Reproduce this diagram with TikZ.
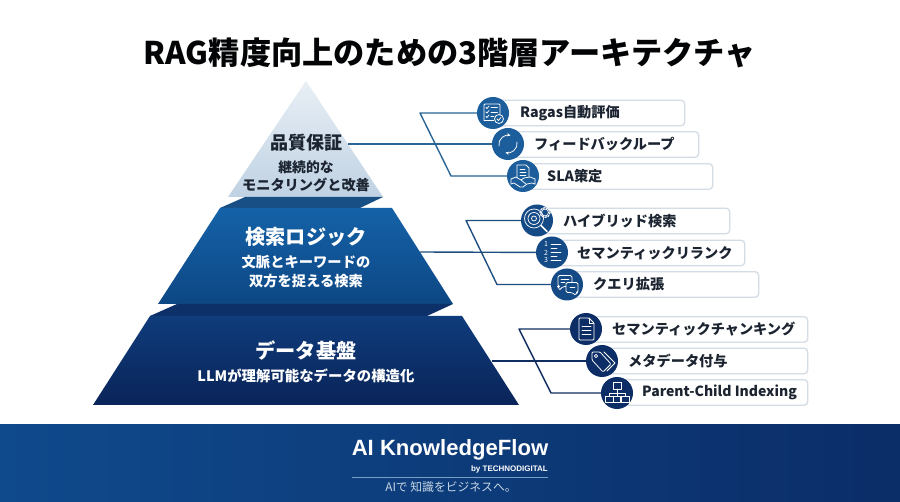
\documentclass[tikz,border=0pt]{standalone}
\usepackage{fontspec}
\setmainfont{Noto Sans CJK JP}
\newfontfamily\latinbold{Liberation Sans}
\usetikzlibrary{arrows.meta}
\definecolor{inkc}{HTML}{1B2430}
\definecolor{c1}{HTML}{1C5E9C}
\definecolor{c2}{HTML}{144A86}
\definecolor{c3}{HTML}{0C2D66}
\definecolor{l1}{HTML}{2A6596}
\definecolor{l2}{HTML}{1F4F80}
\definecolor{l3}{HTML}{102F60}
\definecolor{pb}{HTML}{D4DCE5}
\definecolor{fa}{HTML}{0F4A8C}
\definecolor{fb}{HTML}{0F4E94}
\definecolor{fc}{HTML}{0B2D68}
\definecolor{ta}{HTML}{1562A8}
\definecolor{tb}{HTML}{0D4784}
\definecolor{tc}{HTML}{0F3C7B}
\definecolor{td}{HTML}{0A2459}
\tikzset{
  fs/.style={font=\fontsize{#1}{#1}\selectfont\bfseries},
  fn/.style={font=\fontsize{#1}{#1}\selectfont},
  lab/.style={inner sep=0pt,anchor=center,text=inkc},
  wlab/.style={inner sep=0pt,anchor=center,text=white},
  pilltext/.style={inner sep=0pt,anchor=west,text=inkc,fs=14.2},
  pill/.style={draw=pb,line width=1.3pt,fill=white,rounded corners=3.5pt,minimum height=25.5pt,inner sep=0pt,anchor=west},
  icon/.style={circle,minimum size=32pt,inner sep=0pt,fill=#1},
  ln/.style={line width=1.4pt,draw=#1,line join=round},
  gl/.style={draw=white,line width=0.75pt,line join=round,line cap=round},
  pics/icchk/.style={code={
    \draw[gl,rounded corners=1pt] (-9,7) -- (-9,-9) -- (7,-9) -- (7,2);
    \draw[gl] (-9,7) -- (1,7);
    \draw[gl] (-7,-5.5) -- (-6,-4.5) -- (-4,-7); \draw[gl] (-2,-5.5) -- (4.5,-5.5);
    \draw[gl] (-7,-1) -- (-6,0) -- (-4,-2.5); \draw[gl] (-2,-1) -- (4.5,-1);
    \draw[gl] (-7,3.5) -- (-6,4.5) -- (-4,2); \draw[gl] (-2,3.5) -- (1,3.5);
    \draw[gl,fill=#1] (6,6) circle (4.5);
    \draw[gl] (4,6) -- (5.5,7.5) -- (8,4.5);
  }},
  pics/icsync/.style={code={
    \draw[gl,-{Stealth[length=3.5pt,width=3.5pt]}] (-9,2) arc[start angle=170,end angle=285,radius=9.2];
    \draw[gl,-{Stealth[length=3.5pt,width=3.5pt]}] (9,-2) arc[start angle=-10,end angle=105,radius=9.2];
  }},
  pics/ichand/.style={code={
    \draw[gl] (-6,2) -- (-6,-11) -- (3,-11) -- (6,-8) -- (6,1);
    \draw[gl] (-3,-7) -- (2,-7) (-3,-4) -- (3,-4) (-3,-1) -- (3,-1);
    \draw[gl] (-12,3) -- (-7,1) -- (-2,4) -- (1,2) -- (7,1) -- (12,3);
    \draw[gl] (-12,8) -- (-9,7) -- (-3,11) -- (0,11) -- (4,8) -- (9,7) -- (12,8);
    \draw[gl] (-12,3) -- (-12,8) (12,3) -- (12,8) (-2,4) -- (3,8);
  }},
  pics/ictarget/.style={code={
    \draw[gl] (-3,-2) circle (9.5);
    \draw[gl] (-3,-2) circle (6);
    \draw[gl] (-3,-2) circle (2.5);
    \draw[gl,line width=1.6pt] (4,5) -- (10,11);
    \draw[gl] (8,-8) circle (3.5);
    \draw[gl,dash pattern=on 1.5pt off 1.5pt,line width=1.2pt] (8,-8) circle (5);
  }},
  pics/iclist/.style={code={
    \node[inner sep=0pt,text=white,fn=7] at (-6,-8) {1};
    \node[inner sep=0pt,text=white,fn=7] at (-6,0) {2};
    \node[inner sep=0pt,text=white,fn=7] at (-6,8) {3};
    \draw[gl] (-1,-8) -- (9,-8) (-1,-4) -- (5,-4) (-1,0) -- (9,0) (-1,4) -- (5,4) (-1,8) -- (9,8);
  }},
  pics/icchat/.style={code={
    \draw[gl,rounded corners=1.5pt] (-9,-9) -- (5,-9) -- (5,2) -- (-4,2) -- (-8,6) -- (-8,2) -- (-9,2) -- cycle;
    \draw[gl,rounded corners=1.5pt,fill=#1] (-1,-2) -- (11,-2) -- (11,8) -- (9,8) -- (9,11) -- (5,8) -- (-1,8) -- cycle;
    \draw[gl] (-6,-5.5) -- (2,-5.5) (-6,-2) -- (-2,-2);
    \draw[gl] (3,3) -- (8,3);
  }},
  pics/icdoc/.style={code={
    \draw[gl,rounded corners=1pt] (-7,-11) -- (3,-11) -- (8,-6) -- (8,11) -- (-7,11) -- cycle;
    \draw[gl] (3,-11) -- (3,-6) -- (8,-6);
    \draw[gl] (-4,-3) -- (5,-3) (-4,1) -- (5,1) (-4,5) -- (5,5);
  }},
  pics/ictag/.style={code={
    \draw[gl,rounded corners=1pt] (-10,-9) -- (-2,-9) -- (9,3) -- (1,11) -- (-10,-1) -- cycle;
    \draw[gl] (-2,-9) ++(4,0) -- (13,2) -- (5,10);
    \draw[gl] (-6,-5) circle (1.6);
  }},
  pics/ictree/.style={code={
    \draw[gl] (-4,-11) rectangle (4,-4);
    \draw[gl] (0,-4) -- (0,0) (-8,3) -- (-8,0) -- (8,0) -- (8,3) (0,0) -- (0,3);
    \draw[gl] (-12,3) rectangle (-4,9);
    \draw[gl] (-3.5,3) rectangle (3.5,9);
    \draw[gl] (4,3) rectangle (12,9);
  }},
}
\begin{document}
\begin{tikzpicture}[x=1pt,y=-1pt]
\useasboundingbox (0,0) rectangle (900,502);
\fill[white] (0,0) rectangle (900,502);
% footer
\shade[left color=fa,middle color=fb,right color=fc] (0,425) rectangle (900,502);
\node[wlab] (ft1) at (450,450) {\latinbold\fontsize{22.1}{22.1}\selectfont\bfseries AI KnowledgeFlow};
\node[inner sep=0pt,anchor=east,text=white] (ft2) at (548,469) {\latinbold\fontsize{8}{8}\selectfont\bfseries by TECHNODIGITAL};
\coordinate (fl) at (352,477);
\coordinate (fr) at (548,477);
\draw[draw=c1!60!white,line width=0.8pt] (fl) -- (fr);
\node[inner sep=0pt,text=c1!25!white,fn=11.8] (ft3) at (451,487.5) {AIで 知識をビジネスへ。};
% title
\node[lab,text=black!90!inkc,fs=31.2] (title) at (450,53) {RAG精度向上のための3階層アーキテクチャ};
% pyramid
\coordinate (e1) at (348,144);
\coordinate (e2) at (420,252);
\coordinate (e3) at (492,361);
\shade[top color=white!90!c1,bottom color=c1!28!white] (306,81) -- (383,197) -- (228,197) -- cycle;
\fill[c1!85!black] (245,197) -- (383,197) -- (360,208) -- (220,208) -- cycle;
\shade[top color=ta,bottom color=tb] (220,208) -- (392,208) -- (453,304) -- (158,304) -- cycle;
\fill[c3!90!c2] (177,304) -- (453,304) -- (427,316) -- (150,316) -- cycle;
\shade[top color=tc,bottom color=td] (150,316) -- (462,316) -- (519,405) -- (93,405) -- cycle;
% tier texts
\node[lab,fs=18] (a1) at (306,143) {品質保証};
\node[lab,fs=13.8] (a2) at (306,167) {継続的な};
\node[lab,fs=14.2] (a3) at (306,185) {モニタリングと改善};
\node[wlab,fs=20.2] (b1) at (306,237) {検索ロジック};
\node[wlab,fs=14.3] (b2) at (306,262) {文脈とキーワードの};
\node[wlab,fs=14.3] (b3) at (306,281) {双方を捉える検索};
\node[wlab,fs=20.2] (d1) at (306,351) {データ基盤};
\node[wlab,fs=14.4] (d2) at (306,376) {LLMが理解可能なデータの構造化};
% pills
\node[pill,minimum width=191pt] (p11) at (493,113) {};
\node[pill,minimum width=190pt] (p12) at (508,144.5) {};
\node[pill,minimum width=189pt] (p13) at (523,176.5) {};
\node[pill,minimum width=192pt] (p21) at (537,221) {};
\node[pill,minimum width=192pt] (p22) at (552,253) {};
\node[pill,minimum width=191pt] (p23) at (567,284.5) {};
\node[pill,minimum width=221pt] (p31) at (586,329.5) {};
\node[pill,minimum width=205pt] (p32) at (602,361) {};
\node[pill,minimum width=190pt] (p33) at (617,392.5) {};
% icons
\node[icon=c1] (i11) at (493,113) {};
\node[icon=c1] (i12) at (508,144) {};
\node[icon=c1] (i13) at (523,176) {};
\node[icon=c2] (i21) at (537,220.5) {};
\node[icon=c2] (i22) at (552,252.5) {};
\node[icon=c2] (i23) at (567,284.5) {};
\node[icon=c3] (i31) at (586,329) {};
\node[icon=c3] (i32) at (602,361) {};
\node[icon=c3] (i33) at (617,393) {};
\pic at (i11) {icchk={c1}};
\pic at (i12) {icsync};
\pic at (i13) {ichand};
\pic at (i21) {ictarget};
\pic at (i22) {iclist};
\pic at (i23) {icchat={c2}};
\pic at (i31) {icdoc};
\pic at (i32) {ictag};
\pic at (i33) {ictree};
% connectors
\coordinate (k11) at (420,113); \coordinate (k13) at (451,176);
\coordinate (k21) at (466,220.5); \coordinate (k23) at (497,284.5);
\coordinate (k31) at (519,329); \coordinate (k33) at (551,393);
\draw[ln=l1] (e1) -- (i12);
\draw[ln=l1] (i11) -- (k11) -- (k13) -- (i13);
\draw[ln=l2] (e2) -- (i22);
\draw[ln=l2] (i21) -- (k21) -- (k23) -- (i23);
\draw[ln=l3] (e3) -- (i32);
\draw[ln=l3] (i31) -- (k31) -- (k33) -- (i33);
% pill texts
\node[pilltext] (t11) at (520,113) {Ragas自動評価};
\node[pilltext] (t12) at (534,144.5) {フィードバックループ};
\node[pilltext] (t13) at (547,176.5) {SLA策定};
\node[pilltext] (t21) at (563,221) {ハイブリッド検索};
\node[pilltext] (t22) at (577,253) {セマンティックリランク};
\node[pilltext] (t23) at (593,284.5) {クエリ拡張};
\node[pilltext] (t31) at (612,329.5) {セマンティックチャンキング};
\node[pilltext] (t32) at (628,361) {メタデータ付与};
\node[pilltext,fs=14] (t33) at (642,392.5) {Parent-Child Indexing};
\end{tikzpicture}
\end{document}
